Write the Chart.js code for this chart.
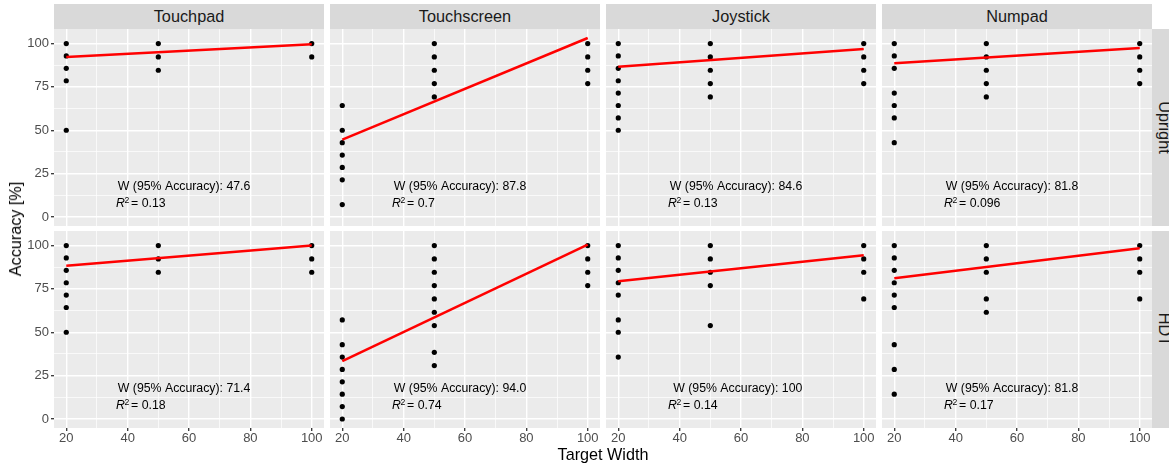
<!DOCTYPE html>
<html>
<head>
<meta charset="utf-8">
<title>Accuracy by target width</title>
<script src="https://cdn.jsdelivr.net/npm/chart.js@4.4.1/dist/chart.umd.min.js"></script>
<style>
  body { margin: 0; background: #fff; }
  #plot { position: relative; width: 1169px; height: 466px; overflow: hidden; font-family: "Liberation Sans", Arial, sans-serif; }
  #plot canvas { position: absolute; }
  .strip { position: absolute; background: #d9d9d9; color: #1a1a1a; font-size: 16.3px; display: flex; align-items: center; justify-content: center; }
  .strip.side span { transform: rotate(90deg); white-space: nowrap; }
  .axis-title { position: absolute; font-size: 16.2px; line-height: 16px; color: #000; white-space: nowrap; }
</style>
</head>
<body>
<div id="plot"></div>
<script>
const devices = ['Touchpad', 'Touchscreen', 'Joystick', 'Numpad'];
const postures = ['Upright', 'HDT'];
const targetWidths = [20, 50, 100];

const xTicks = [20, 40, 60, 80, 100];
const xMinorTicks = [30, 50, 70, 90];
const yTicks = [0, 25, 50, 75, 100];
const yMinorTicks = [12.5, 37.5, 62.5, 87.5];

// accuracy [%], one list per target width (20, 50, 100)
const uprightTouchpad = [[100, 92.86, 85.71, 78.57, 50], [100, 92.31, 84.62], [100, 92.31]];
const uprightTouchscreen = [[64.29, 50, 42.86, 35.71, 28.57, 21.43, 7.14], [100, 92.31, 84.62, 76.92, 69.23], [100, 92.31, 84.62, 76.92]];
const uprightJoystick = [[100, 92.86, 85.71, 78.57, 71.43, 64.29, 57.14, 50], [100, 92.31, 84.62, 76.92, 69.23], [100, 92.31, 84.62, 76.92]];
const uprightNumpad = [[100, 92.86, 85.71, 71.43, 64.29, 57.14, 42.86], [100, 92.31, 84.62, 76.92, 69.23], [100, 92.31, 84.62, 76.92]];
const hdtTouchpad = [[100, 92.86, 85.71, 78.57, 71.43, 64.29, 50], [100, 92.31, 84.62], [100, 92.31, 84.62]];
const hdtTouchscreen = [[57.14, 42.86, 35.71, 28.57, 21.43, 14.29, 7.14, 0], [100, 92.31, 84.62, 76.92, 69.23, 61.54, 53.85, 38.46, 30.77], [100, 92.31, 84.62, 76.92]];
const hdtJoystick = [[100, 92.86, 85.71, 78.57, 71.43, 57.14, 50, 35.71], [100, 92.31, 84.62, 76.92, 53.85], [100, 92.31, 84.62, 69.23]];
const hdtNumpad = [[100, 92.86, 85.71, 78.57, 71.43, 64.29, 42.86, 28.57, 14.29], [100, 92.31, 84.62, 69.23, 61.54], [100, 92.31, 84.62, 69.23]];

// regression line, value at width 20 and at width 100
const uprightFit = [[92.3, 99.6], [44.6, 103.2], [86.7, 96.9], [88.6, 97.5]];
const hdtFit = [[88.4, 100], [33.3, 100.6], [79.4, 94.4], [81.1, 98.5]];

const uprightW95 = ['47.6', '87.8', '84.6', '81.8'];
const hdtW95 = ['71.4', '94.0', '100', '81.8'];
const uprightR2 = ['0.13', '0.7', '0.13', '0.096'];
const hdtR2 = ['0.18', '0.74', '0.14', '0.17'];

const panels = {
    Upright: { acc: [uprightTouchpad, uprightTouchscreen, uprightJoystick, uprightNumpad], fit: uprightFit, w95: uprightW95, r2: uprightR2 },
    HDT: { acc: [hdtTouchpad, hdtTouchscreen, hdtJoystick, hdtNumpad], fit: hdtFit, w95: hdtW95, r2: hdtR2 }
};

const FONT = '"Liberation Sans", Arial, sans-serif';
Chart.defaults.font.family = FONT;

const colLeft = [54, 330, 606, 882];
const rowTop = [29, 231];
const panelW = 270, panelH = 197;
const yAxisW = 54, xAxisH = 24;

const panelBg = {
    id: 'panelBg',
    beforeDraw(chart) {
        const { ctx, chartArea } = chart;
        ctx.save();
        ctx.fillStyle = '#ebebeb';
        ctx.fillRect(chartArea.left, chartArea.top, chartArea.right - chartArea.left, chartArea.bottom - chartArea.top);
        ctx.restore();
    }
};

const statsLabel = {
    id: 'statsLabel',
    afterDatasetsDraw(chart, args, opts) {
        const { ctx } = chart;
        const x = chart.scales.x, y = chart.scales.y;
        ctx.save();
        ctx.fillStyle = '#000';
        ctx.textBaseline = 'alphabetic';
        ctx.font = '12.3px ' + FONT;
        ctx.textAlign = 'right';
        ctx.fillText('W (95% Accuracy): ' + opts.w, x.getPixelForValue(80), y.getPixelForValue(15.6));

        ctx.textAlign = 'left';
        let px = x.getPixelForValue(36.2);
        const py = y.getPixelForValue(5.5);
        ctx.font = 'italic 12.3px ' + FONT;
        ctx.fillText('R', px, py);
        px += ctx.measureText('R').width - 0.4;
        ctx.font = '8.6px ' + FONT;
        ctx.fillText('2', px, py - 4.6);
        px += ctx.measureText('2').width + 1.8;
        ctx.font = '12.3px ' + FONT;
        ctx.fillText('= ' + opts.r2, px, py);
        ctx.restore();
    }
};

function gridOpts(major, showTicks) {
    const isMajor = c => c.tick && major.includes(c.tick.value);
    return {
        color: '#ffffff',
        lineWidth: c => isMajor(c) ? 1.4 : 0.7,
        drawTicks: showTicks,
        tickLength: 3,
        tickWidth: 1.3,
        tickColor: c => isMajor(c) ? '#333333' : 'rgba(0,0,0,0)'
    };
}

const plot = document.getElementById('plot');

postures.forEach((posture, r) => {
    devices.forEach((device, c) => {
        const p = panels[posture];
        const isLeft = c === 0;
        const isBottom = r === postures.length - 1;

        const width = panelW + (isLeft ? yAxisW : 0);
        const height = panelH + (isBottom ? xAxisH : 0);
        const canvas = document.createElement('canvas');
        canvas.width = width;
        canvas.height = height;
        canvas.style.width = width + 'px';
        canvas.style.height = height + 'px';
        canvas.style.left = (colLeft[c] - (isLeft ? yAxisW : 0)) + 'px';
        canvas.style.top = rowTop[r] + 'px';
        plot.appendChild(canvas);

        const points = [];
        p.acc[c].forEach((vals, i) => vals.forEach(v => points.push({ x: targetWidths[i], y: v })));

        new Chart(canvas, {
            type: 'scatter',
            data: {
                datasets: [{
                    data: [{ x: targetWidths[0], y: p.fit[c][0] }, { x: targetWidths[2], y: p.fit[c][1] }],
                    showLine: true,
                    borderColor: '#ff0000',
                    borderWidth: 2.5,
                    pointRadius: 0
                }, {
                    data: points,
                    pointRadius: 2.6,
                    backgroundColor: '#000000',
                    borderWidth: 0
                }]
            },
            options: {
                responsive: false,
                animation: false,
                events: [],
                layout: { padding: 0, autoPadding: false },
                plugins: {
                    legend: { display: false },
                    tooltip: { enabled: false },
                    statsLabel: { w: p.w95[c], r2: p.r2[c] }
                },
                scales: {
                    x: {
                        type: 'linear',
                        min: 16,
                        max: 104,
                        border: { display: false },
                        grid: gridOpts(xTicks, isBottom),
                        afterBuildTicks: s => {
                            s.ticks = xTicks.concat(xMinorTicks).sort((a, b) => a - b).map(v => ({ value: v }));
                        },
                        ticks: {
                            display: isBottom,
                            autoSkip: false,
                            maxRotation: 0,
                            padding: 0,
                            color: '#4d4d4d',
                            font: { size: 13 },
                            callback: v => xTicks.includes(v) ? String(v) : ''
                        },
                        afterFit: s => {
                            s.height = isBottom ? xAxisH : 0;
                            s.paddingLeft = 0;
                            s.paddingRight = 0;
                        }
                    },
                    y: {
                        type: 'linear',
                        min: -5.2,
                        max: 108.4,
                        border: { display: false },
                        grid: gridOpts(yTicks, isLeft),
                        afterBuildTicks: s => {
                            s.ticks = yTicks.concat(yMinorTicks).sort((a, b) => a - b).map(v => ({ value: v }));
                        },
                        ticks: {
                            display: isLeft,
                            autoSkip: false,
                            padding: 2,
                            color: '#4d4d4d',
                            font: { size: 13 },
                            callback: v => yTicks.includes(v) ? String(v) : ''
                        },
                        afterFit: s => {
                            s.width = isLeft ? yAxisW : 0;
                            s.paddingTop = 0;
                            s.paddingBottom = 0;
                        }
                    }
                }
            },
            plugins: [panelBg, statsLabel]
        });
    });
});

// facet strips
devices.forEach((device, c) => {
    const d = document.createElement('div');
    d.className = 'strip';
    d.style.left = colLeft[c] + 'px';
    d.style.top = '4px';
    d.style.width = panelW + 'px';
    d.style.height = '25px';
    d.textContent = device;
    plot.appendChild(d);
});
postures.forEach((posture, r) => {
    const d = document.createElement('div');
    d.className = 'strip side';
    d.style.left = '1152px';
    d.style.top = rowTop[r] + 'px';
    d.style.width = '25px';
    d.style.height = panelH + 'px';
    const s = document.createElement('span');
    s.textContent = posture;
    d.appendChild(s);
    plot.appendChild(d);
});

// axis titles
const yTitle = document.createElement('div');
yTitle.className = 'axis-title';
yTitle.textContent = 'Accuracy [%]';
yTitle.style.left = '15px';
yTitle.style.top = '228.5px';
yTitle.style.transform = 'translate(-50%, -50%) rotate(-90deg)';
plot.appendChild(yTitle);

const xTitle = document.createElement('div');
xTitle.className = 'axis-title';
xTitle.textContent = 'Target Width';
xTitle.style.left = '603px';
xTitle.style.top = '446px';
xTitle.style.transform = 'translateX(-50%)';
plot.appendChild(xTitle);
</script>
</body>
</html>
